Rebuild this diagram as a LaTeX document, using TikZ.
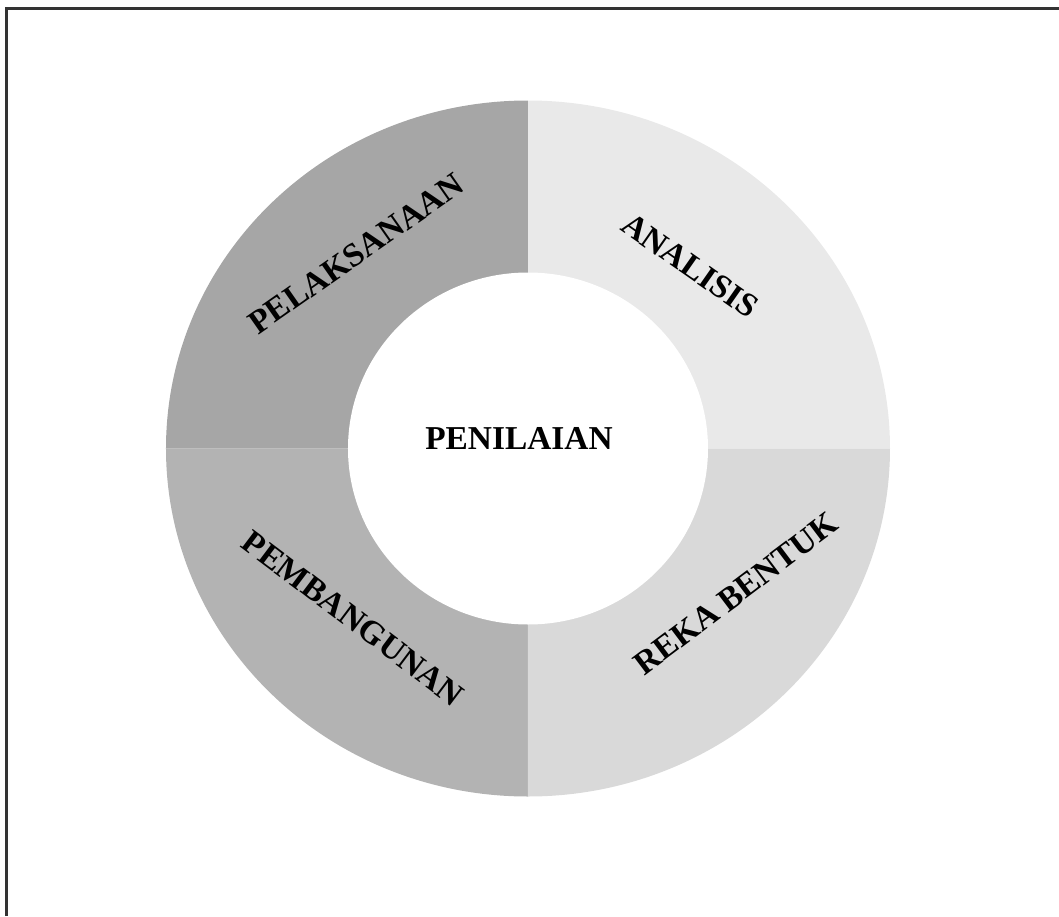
\documentclass[tikz,border=0pt]{standalone}
\usepackage{fontspec}
\setmainfont{Liberation Serif}
\usepackage{tikz}
\usetikzlibrary{positioning}
\definecolor{AnaGray}{HTML}{E9E9E9}
\definecolor{PelGray}{HTML}{A6A6A6}
\definecolor{PemGray}{HTML}{B3B3B3}
\definecolor{RekGray}{HTML}{D9D9D9}
\definecolor{FrameGray}{HTML}{333333}

\tikzset{
  phase/.style={font=\fontsize{19}{22}\selectfont\bfseries, color=black, inner sep=0pt},
}

\begin{document}
\begin{tikzpicture}
  % Page frame (only top and left edges)
  \useasboundingbox (-10.56, -9.35) rectangle (10.62, 8.97);
  \draw[color=FrameGray, line width=1.7pt] (-10.43, -9.35) -- (-10.43, 8.80) -- (10.62, 8.80);

  % Quadrants of the ring
  \foreach \a/\c in {0/AnaGray, 90/PelGray, 180/PemGray, 270/RekGray}
    \fill[color=\c] (0,0) -- ({7.24*cos(\a)}, {6.96*sin(\a)})
      arc[start angle=\a, end angle=\a+90, x radius=7.24, y radius=6.96] -- cycle;

  % Hole in the middle
  \fill[white] (0,0) ellipse[x radius=3.6, y radius=3.52];
  \node[phase] (penilaian) at (-0.18, 0.2) {PENILAIAN};

  % Phase labels
  \node[phase, rotate=35] (pelaksanaan) at (-3.44, 3.90) {PELAKSANAAN};
  \node[phase, rotate=-35] (analisis) at (3.24, 3.66) {ANALISIS};
  \node[phase, rotate=-37] (pembangunan) at (-3.50, -3.40) {PEMBANGUNAN};
  \node[phase, rotate=37] (rekabentuk) at (4.16, -2.90) {REKA BENTUK};
\end{tikzpicture}
\end{document}
